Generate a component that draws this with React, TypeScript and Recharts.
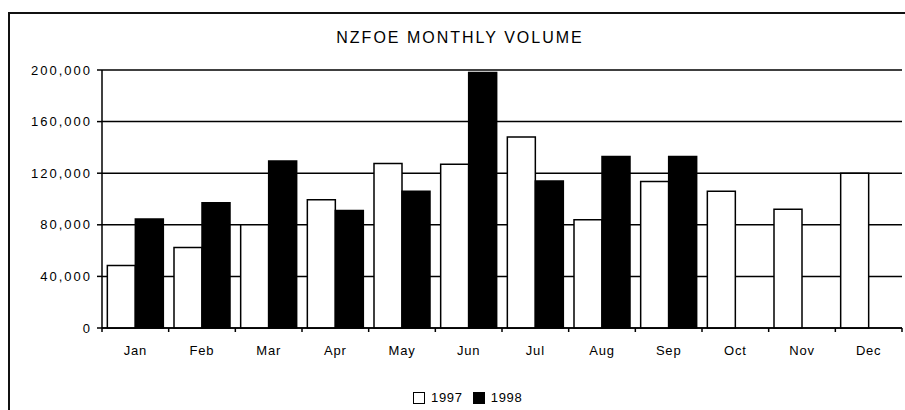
import * as React from "react";
import { BarChart, Bar, XAxis, YAxis, CartesianGrid } from "recharts";

const months = ["Jan", "Feb", "Mar", "Apr", "May", "Jun", "Jul", "Aug", "Sep", "Oct", "Nov", "Dec"];
const volume1997 = [48500, 62500, 80000, 99500, 127500, 127000, 148000, 84000, 113500, 106000, 92000, 120000];
const volume1998 = [84500, 97000, 129500, 91000, 106000, 198000, 114000, 133000, 133000, null, null, null];
const yTicks = [0, 40000, 80000, 120000, 160000, 200000];

const data = months.map((m, i) => ({ month: m, v1997: volume1997[i], v1998: volume1998[i] }));

const W = 897;
const H = 402;
const FONT = '"Liberation Sans", Arial, sans-serif';
const MARGIN = { top: 62, right: 3, bottom: 52, left: 0 };
const Y_WIDTH = 94;
const PLOT_W = W - MARGIN.left - MARGIN.right - Y_WIDTH;
const HALF_BAND = PLOT_W / months.length / 2;
const TICK = 4;

const fmt = (v: number) => v.toLocaleString("en-US");

// category labels sit in the middle, tick marks on the boundaries
function MonthTick(props: any) {
  const { x, y, payload, index } = props;
  const axisY = y - TICK;
  const last = index === months.length - 1;
  return (
    <g>
      <line x1={x - HALF_BAND} x2={x - HALF_BAND} y1={axisY} y2={axisY + TICK} stroke="#000" strokeWidth={1.5} />
      {last && <line x1={x + HALF_BAND} x2={x + HALF_BAND} y1={axisY} y2={axisY + TICK} stroke="#000" strokeWidth={1.5} />}
      <text
        x={x}
        y={axisY + 26.5}
        textAnchor="middle"
        fontSize={13}
        fill="#000"
        style={{ fontFamily: FONT, letterSpacing: 0.8 }}
      >
        {payload.value}
      </text>
    </g>
  );
}

function ValueTick(props: any) {
  const { x, y, payload } = props;
  return (
    <text
      x={x}
      y={y}
      dy="0.36em"
      textAnchor="end"
      fontSize={13}
      fill="#000"
      style={{ fontFamily: FONT, letterSpacing: 2 }}
    >
      {fmt(payload.value)}
    </text>
  );
}

const swatch = (fill: string): React.CSSProperties => ({
  width: 10,
  height: 10,
  border: "1px solid #000",
  background: fill,
  display: "inline-block",
});

export default function App() {
  return (
    <div style={{ position: "fixed", left: 0, top: 0, width: 905, height: 410, overflow: "hidden", background: "#fff" }}>
      <div style={{ position: "absolute", left: 8, top: 8, width: W, height: H, fontFamily: FONT }}>
        <div
          style={{
            position: "absolute",
            left: 0,
            top: 4,
            width: 2000,
            height: 2000,
            borderTop: "2px solid #111",
            borderLeft: "2px solid #111",
          }}
        />
        <div
          style={{
            position: "absolute",
            left: 0,
            top: 21,
            width: 904,
            textAlign: "center",
            fontSize: 16,
            letterSpacing: 2,
            color: "#000",
          }}
        >
          NZFOE MONTHLY VOLUME
        </div>
        <div style={{ position: "absolute", left: 0, top: 0 }}>
          <BarChart width={W} height={H} data={data} margin={MARGIN} barCategoryGap="8%" barGap={0}>
            <CartesianGrid vertical={false} stroke="#000" strokeOpacity={1} strokeWidth={1.5} />
            <XAxis
              dataKey="month"
              height={30}
              tickLine={false}
              tickSize={TICK}
              tickMargin={0}
              axisLine={{ stroke: "#000", strokeWidth: 1.5 }}
              tick={<MonthTick />}
              interval={0}
            />
            <YAxis
              width={Y_WIDTH}
              domain={[0, 200000]}
              ticks={yTicks}
              tickSize={5}
              tickMargin={5}
              tickLine={{ stroke: "#000", strokeWidth: 1.5 }}
              axisLine={{ stroke: "#000", strokeWidth: 1.5 }}
              tick={<ValueTick />}
              interval={0}
            />
            <Bar dataKey="v1997" name="1997" fill="#fff" stroke="#000" strokeWidth={1.5} isAnimationActive={false} />
            <Bar dataKey="v1998" name="1998" fill="#000" stroke="#000" strokeWidth={1.5} isAnimationActive={false} />
          </BarChart>
        </div>
        <div
          style={{
            position: "absolute",
            left: 405,
            top: 382,
            height: 16,
            lineHeight: "16px",
            display: "flex",
            alignItems: "center",
            fontSize: 13,
            letterSpacing: 0.7,
            color: "#000",
          }}
        >
          <span style={swatch("#fff")} />
          <span style={{ marginLeft: 6 }}>1997</span>
          <span style={{ ...swatch("#000"), marginLeft: 10 }} />
          <span style={{ marginLeft: 6 }}>1998</span>
        </div>
      </div>
    </div>
  );
}
